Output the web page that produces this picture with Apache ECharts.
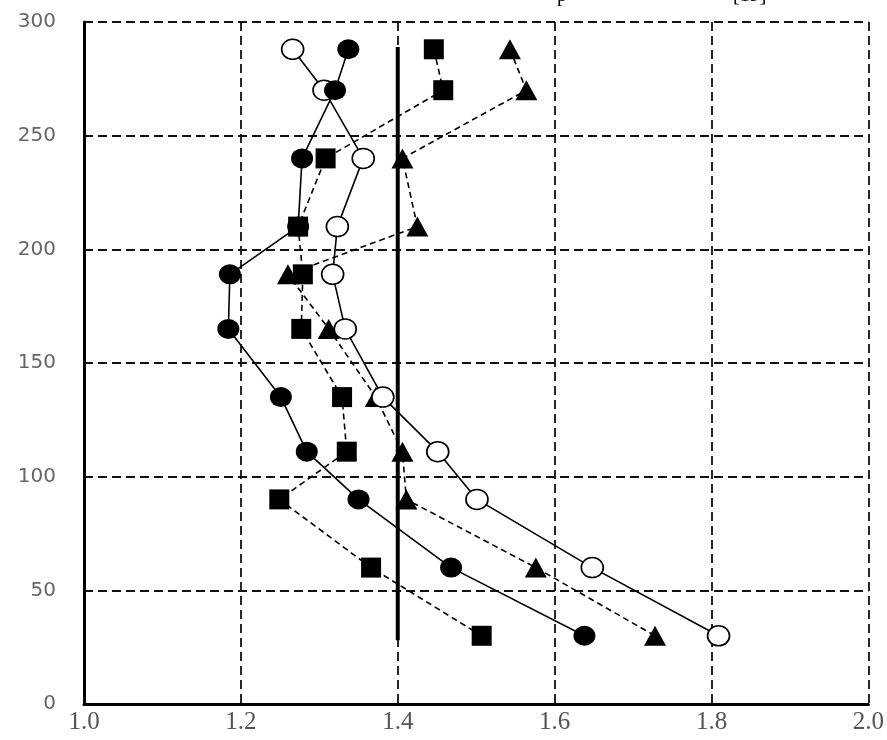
<!DOCTYPE html>
<html>
<head>
<meta charset="utf-8">
<script src="https://cdn.jsdelivr.net/npm/echarts@6/dist/echarts.min.js"></script>
<style>
html,body{margin:0;padding:0;background:#fff;}
#chart{width:887px;height:740px;}
</style>
</head>
<body>
<div id="chart"></div>
<script>
var heights = [288, 270, 240, 210, 189, 165, 135, 111, 90, 60, 30];
var filledCircle = [1.337, 1.320, 1.278, 1.273, 1.186, 1.184, 1.251, 1.284, 1.350, 1.468, 1.638];
var openCircle = [1.266, 1.306, 1.356, 1.323, 1.317, 1.333, 1.381, 1.451, 1.501, 1.648, 1.809];
var squares = [1.446, 1.458, 1.308, 1.273, 1.279, 1.277, 1.329, 1.335, 1.249, 1.366, 1.507];
var triangles = [1.543, 1.564, 1.406, 1.425, 1.260, 1.312, 1.372, 1.406, 1.411, 1.576, 1.728];
var refLineX = 1.4;
var refLineY = [28, 289];
var xTicks = ['1.0', '1.2', '1.4', '1.6', '1.8', '2.0'];
var yTicks = ['0', '50', '100', '150', '200', '250', '300'];

function pairs(xs) {
  return xs.map(function (x, i) { return [x, heights[i]]; });
}

var chart = echarts.init(document.getElementById('chart'), null, {renderer: 'canvas'});
var gridDash = {color: '#111', width: 1.8, type: [9, 5]};
chart.setOption({
  animation: false,
  backgroundColor: '#fff',
  graphic: [
    {type: 'text', left: 557, top: -14, style: {text: 'p', font: '20px "Liberation Serif"', fill: '#000'}},
    {type: 'text', left: 733, top: -14, style: {text: '[19]', font: '20px "Liberation Serif"', fill: '#000'}}
  ],
  grid: {left: 84, right: 16, top: 22, bottom: 36, containLabel: false},
  xAxis: {
    type: 'value', min: 1.0, max: 2.0, interval: 0.2,
    axisLine: {show: true, onZero: false, lineStyle: {color: '#000', width: 3}},
    axisTick: {show: false},
    axisLabel: {
      color: '#555', fontFamily: '"Liberation Serif", serif', fontSize: 25, margin: 6,
      formatter: function (v) { return xTicks[Math.round((v - 1.0) / 0.2)]; }
    },
    splitLine: {show: true, showMinLine: false, showMaxLine: true, lineStyle: gridDash}
  },
  yAxis: {
    type: 'value', min: 0, max: 300, interval: 50,
    axisLine: {show: true, onZero: false, lineStyle: {color: '#000', width: 3}},
    axisTick: {show: false},
    axisLabel: {
      color: '#666', fontFamily: '"DejaVu Sans", sans-serif', fontSize: 20, margin: 28,
      formatter: function (v) { return yTicks[Math.round(v / 50)]; }
    },
    splitLine: {show: true, showMinLine: false, showMaxLine: true, lineStyle: gridDash}
  },
  series: [
    {
      type: 'line', data: [[refLineX, refLineY[0]], [refLineX, refLineY[1]]],
      showSymbol: false, symbol: 'none',
      lineStyle: {color: '#000', width: 4}, z: 3
    },
    {
      type: 'line', data: pairs(squares), symbol: 'rect', symbolSize: 20,
      itemStyle: {color: '#000'}, lineStyle: {color: '#000', width: 1.6, type: [6, 4]}, z: 4
    },
    {
      type: 'line', data: pairs(triangles), symbol: 'triangle', symbolSize: [22, 20],
      itemStyle: {color: '#000'}, lineStyle: {color: '#000', width: 1.6, type: [6, 4]}, z: 4
    },
    {
      type: 'line', data: pairs(openCircle), symbol: 'circle', symbolSize: [22, 20],
      itemStyle: {color: '#fff', borderColor: '#000', borderWidth: 1.6},
      lineStyle: {color: '#000', width: 1.6}, z: 5
    },
    {
      type: 'line', data: pairs(filledCircle), symbol: 'circle', symbolSize: [22, 20],
      itemStyle: {color: '#000'}, lineStyle: {color: '#000', width: 1.6}, z: 6
    }
  ]
});
</script>
</body>
</html>
